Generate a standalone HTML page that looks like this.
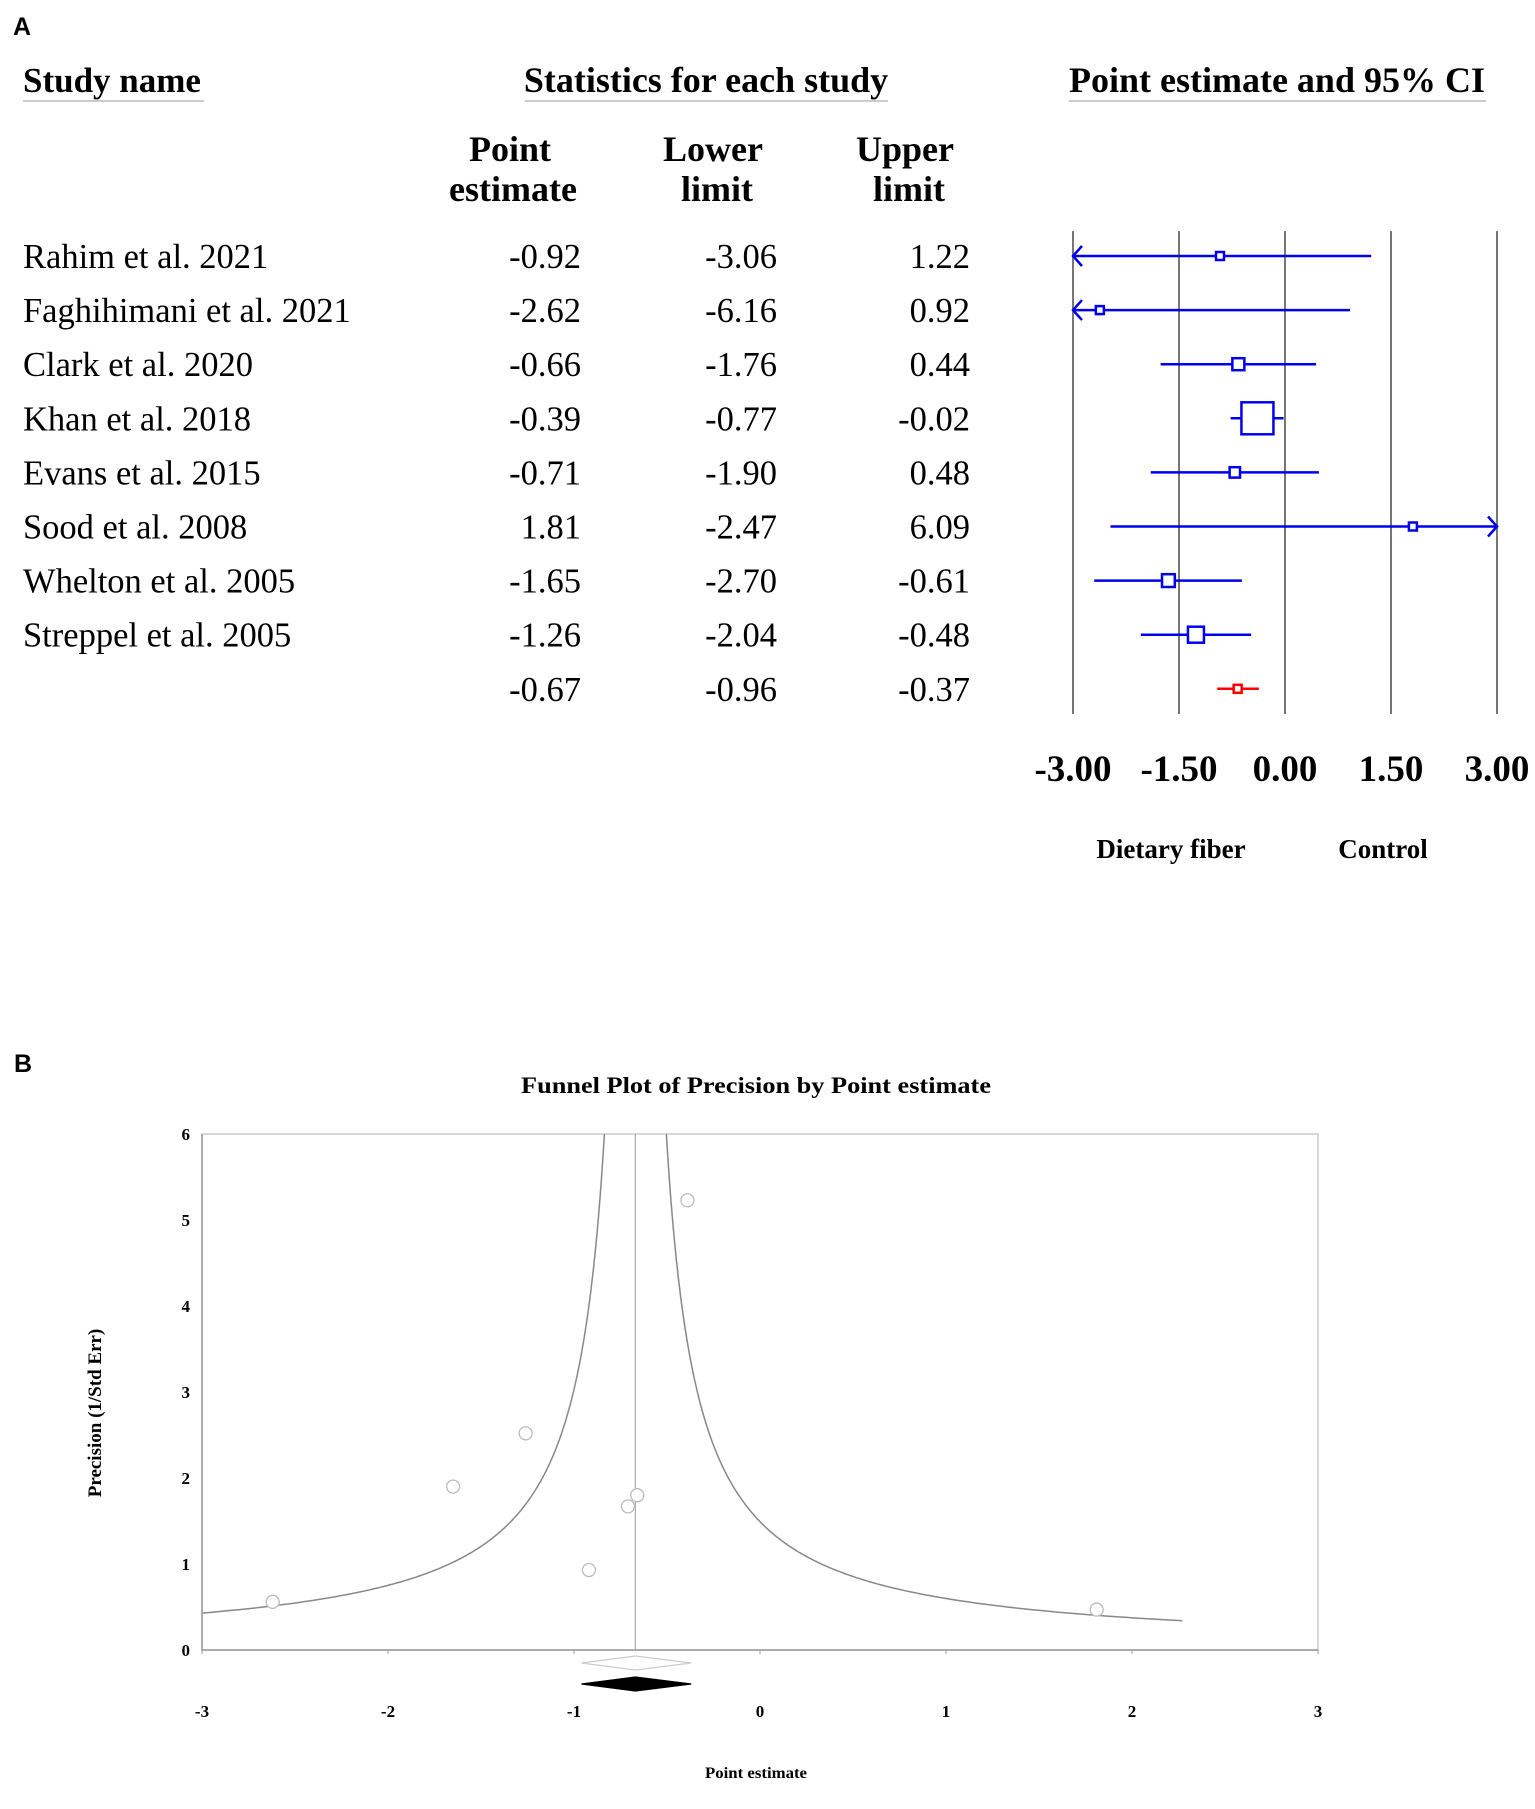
<!DOCTYPE html>
<html><head><meta charset="utf-8">
<style>
body{margin:0;background:#fff;}
svg{display:block;}
.t{font-family:"Liberation Serif",serif;}
</style></head>
<body>
<svg id="fig" width="1535" height="1809" viewBox="0 0 1535 1809" xmlns="http://www.w3.org/2000/svg">
<text x="13" y="35" font-family="Liberation Sans,sans-serif" font-weight="bold" font-size="25">A</text>
<g class="t" font-weight="bold" font-size="36">
<text x="23" y="92" font-size="35">Study name</text>
<line x1="23" y1="101" x2="204" y2="101" stroke="#ccc" stroke-width="2"/>
<text x="706" y="92" text-anchor="middle">Statistics for each study</text>
<line x1="525" y1="101" x2="888" y2="101" stroke="#ccc" stroke-width="2"/>
<text x="1277" y="92" text-anchor="middle">Point estimate and 95% CI</text>
<line x1="1069" y1="101" x2="1486" y2="101" stroke="#ccc" stroke-width="2"/>
<text x="510" y="161" text-anchor="middle">Point</text>
<text x="513" y="201" text-anchor="middle">estimate</text>
<text x="713" y="161" text-anchor="middle">Lower</text>
<text x="717" y="201" text-anchor="middle">limit</text>
<text x="905" y="161" text-anchor="middle">Upper</text>
<text x="909" y="201" text-anchor="middle">limit</text>
</g>
<g id="forest"></g>
<text x="14" y="1072" font-family="Liberation Sans,sans-serif" font-weight="bold" font-size="25">B</text>
<text x="756" y="1093" text-anchor="middle" class="t" font-weight="bold" font-size="23" textLength="470" lengthAdjust="spacingAndGlyphs">Funnel Plot of Precision by Point estimate</text>
<g id="funnel"></g>
<text x="756" y="1778" text-anchor="middle" class="t" font-weight="bold" font-size="16" textLength="102" lengthAdjust="spacingAndGlyphs">Point estimate</text>
<text transform="translate(101,1413) rotate(-90)" text-anchor="middle" class="t" font-weight="bold" font-size="19">Precision (1/Std Err)</text>
</svg>
<script>
const studies=["Rahim et al. 2021","Faghihimani et al. 2021","Clark et al. 2020","Khan et al. 2018","Evans et al. 2015","Sood et al. 2008","Whelton et al. 2005","Streppel et al. 2005"];
const est=[-0.92,-2.62,-0.66,-0.39,-0.71,1.81,-1.65,-1.26];
const lower=[-3.06,-6.16,-1.76,-0.77,-1.90,-2.47,-2.70,-2.04];
const upper=[1.22,0.92,0.44,-0.02,0.48,6.09,-0.61,-0.48];
const weights=[1,1,1.5,4,1.3,1,1.6,2];
const summary=[-0.67,-0.96,-0.37];
const forestTicks=[-3,-1.5,0,1.5,3];
const precision=[0.93,0.56,1.80,5.23,1.67,0.47,1.90,2.52];
const funnelXTicks=[-3,-2,-1,0,1,2,3];
const funnelYTicks=[0,1,2,3,4,5,6];
const NS="http://www.w3.org/2000/svg";
function mk(t,a,p){const e=document.createElementNS(NS,t);for(const k in a)e.setAttribute(k,a[k]);p.appendChild(e);return e;}
const fx=v=>1073+(v+3)*(1497-1073)/6;
const rowY=i=>256+i*54.1;
const F=document.getElementById('forest');
forestTicks.forEach(t=>{
 const l=mk('line',{x1:fx(t),x2:fx(t),y1:231,y2:714,stroke:'#777','stroke-width':2},F);
 
 
 const tx=mk('text',{x:fx(t),y:781,'text-anchor':'middle','font-family':'Liberation Serif,serif','font-weight':'bold','font-size':37},F);
 tx.textContent=t.toFixed(2);
 
 
});
function fmt(v){return v.toFixed(2);}
function row(i,name,e,lo,hi,col,w){
 const y=rowY(i);
 if(name){const n=mk('text',{x:23,y:y+12,'font-family':'Liberation Serif,serif','font-size':34.5},F);n.textContent=name;
 
 }
 [[e,581],[lo,777],[hi,970]].forEach(([v,x])=>{const t=mk('text',{x:x,y:y+12,'text-anchor':'end','font-family':'Liberation Serif,serif','font-size':34.5},F);t.textContent=fmt(v);
 
 });
 const a=Math.max(lo,-3),b=Math.min(hi,3);
 const l=mk('line',{x1:fx(a),x2:fx(b),y1:y,y2:y,stroke:col,'stroke-width':2.5},F);
 
 
 if(lo<-3){mk('polyline',{points:`${fx(-3)+9},${y-10} ${fx(-3)},${y} ${fx(-3)+9},${y+10}`,fill:'none',stroke:col,'stroke-width':2.5},F);}
 if(hi>3){mk('polyline',{points:`${fx(3)-9},${y-10} ${fx(3)},${y} ${fx(3)-9},${y+10}`,fill:'none',stroke:col,'stroke-width':2.5},F);}
 const s=8*w;
 const r=mk('rect',{x:fx(e)-s/2,y:y-s/2,width:s,height:s,fill:'#fff',stroke:col,'stroke-width':2.5},F);
 
 
}
studies.forEach((n,i)=>row(i,n,est[i],lower[i],upper[i],'#0000ee',weights[i]));
row(8,null,summary[0],summary[1],summary[2],'#ff0000',1);
[['Dietary fiber',1171],['Control',1383]].forEach(([s,x])=>{const t=mk('text',{x:x,y:858,'text-anchor':'middle','font-family':'Liberation Serif,serif','font-weight':'bold','font-size':27},F);t.textContent=s;
 
 });

const G=document.getElementById('funnel');
const X0=202,X1=1318,Y0=1650,Y1=1134;
const gx=v=>X0+(v+3)*(X1-X0)/6;
const gy=v=>Y0-v*(Y0-Y1)/6;
mk('rect',{x:X0,y:Y1,width:X1-X0,height:Y0-Y1,fill:'none',stroke:'#ccc','stroke-width':1.5},G);
mk('line',{x1:X0,x2:X1,y1:Y0,y2:Y0,stroke:'#999','stroke-width':1.5},G);
mk('line',{x1:X0,x2:X0,y1:Y1,y2:Y0,stroke:'#999','stroke-width':1.5},G);
funnelXTicks.forEach(t=>{mk('line',{x1:gx(t),x2:gx(t),y1:Y0,y2:Y0+4,stroke:'#999'},G);
 const tx=mk('text',{x:gx(t),y:1717,'text-anchor':'middle','font-family':'Liberation Serif,serif','font-weight':'bold','font-size':17},G);tx.textContent=t;
 
 });
funnelYTicks.forEach(t=>{const tx=mk('text',{x:X0-12,y:gy(t)+6,'text-anchor':'end','font-family':'Liberation Serif,serif','font-weight':'bold','font-size':17},G);tx.textContent=t;
 
 });
const m=summary[0];
mk('line',{x1:gx(m),x2:gx(m),y1:Y1,y2:Y0,stroke:'#aaa','stroke-width':1.2},G);
function curve(sign,xEnd){let pts=[];for(let p=6;p>=0.2;p-=0.01){const x=m+sign/p;if(sign<0&&x<-3)break;if(sign>0&&x>xEnd)break;pts.push(gx(x).toFixed(1)+','+gy(p).toFixed(1));}
 const c=mk('polyline',{points:pts.join(' '),fill:'none',stroke:'#888','stroke-width':1.5},G);
 
 }
curve(-1,3);curve(1,2.33);
est.forEach((e,i)=>{const c=mk('circle',{cx:gx(e),cy:gy(precision[i]),r:6.5,fill:'#fff',stroke:'#bbb','stroke-width':1.3},G);
 
 });
[[1663,'#fff','#ccc'],[1684,'#000','#000']].forEach(([y,f,s])=>{const d=mk('polygon',{points:`${gx(summary[1])},${y} ${gx(m)},${y-7} ${gx(summary[2])},${y} ${gx(m)},${y+7}`,fill:f,stroke:s,'stroke-width':1.2},G);
 
 });
</script>
</body></html>
